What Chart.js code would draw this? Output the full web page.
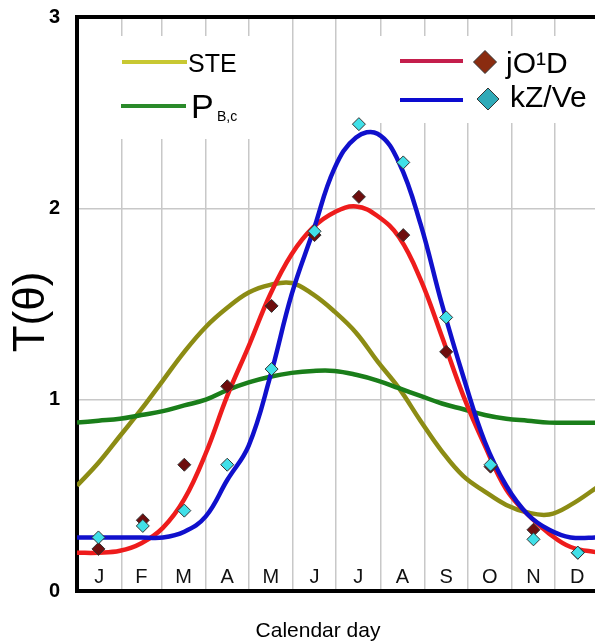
<!DOCTYPE html>
<html>
<head>
<meta charset="utf-8">
<script src="https://cdn.jsdelivr.net/npm/chart.js@4.4.1/dist/chart.umd.min.js"></script>
<style>
  html, body { margin: 0; padding: 0; background: #fff; }
  #wrap { width: 595px; height: 642px; }
</style>
</head>
<body>
<div id="wrap"><canvas id="myCanvas" width="595" height="642"></canvas></div>
<script>
// day of year for each curve sample
const days = [0, 15, 30, 45, 60, 75, 90, 105, 120, 135, 150, 165, 180, 195, 210, 225, 240, 255, 270, 285, 300, 315, 330, 345, 365];

const steValues = [0.55, 0.67, 0.81, 0.95, 1.10, 1.25, 1.38, 1.48, 1.56, 1.60, 1.61, 1.55, 1.46, 1.35, 1.20, 1.06, 0.89, 0.73, 0.60, 0.52, 0.45, 0.41, 0.40, 0.45, 0.55];
const pbcValues = [0.88, 0.89, 0.90, 0.92, 0.94, 0.97, 1.00, 1.05, 1.09, 1.12, 1.14, 1.15, 1.15, 1.13, 1.10, 1.06, 1.02, 0.98, 0.95, 0.92, 0.90, 0.89, 0.88, 0.88, 0.88];
const jo1dValues = [0.20, 0.20, 0.21, 0.25, 0.33, 0.48, 0.72, 1.02, 1.28, 1.55, 1.76, 1.90, 1.98, 2.01, 1.96, 1.85, 1.63, 1.33, 1.02, 0.76, 0.53, 0.40, 0.30, 0.23, 0.20];
const kzveValues = [0.28, 0.28, 0.28, 0.28, 0.28, 0.31, 0.39, 0.58, 0.76, 1.12, 1.55, 1.88, 2.21, 2.37, 2.39, 2.24, 1.92, 1.50, 1.12, 0.78, 0.55, 0.40, 0.32, 0.28, 0.28];

// monthly observations (mid-month days)
const obsDays = [15, 46, 75, 105, 136, 166, 197, 228, 258, 289, 319, 350];
const jo1dObs = [0.22, 0.37, 0.66, 1.07, 1.49, 1.86, 2.06, 1.86, 1.25, 0.65, 0.32, 0.20];
const kzveObs = [0.28, 0.34, 0.42, 0.66, 1.16, 1.88, 2.44, 2.24, 1.43, 0.66, 0.27, 0.20];

const monthStarts = [0, 31, 59, 90, 120, 151, 181, 212, 243, 273, 304, 334, 365];
const monthLabels = ["J", "F", "M", "A", "M", "J", "J", "A", "S", "O", "N", "D"];
const yTicks = [0, 1, 2, 3];

const dayMax = 362;
const FONT = "'Liberation Sans', Arial, sans-serif";

function toPoints(xs, ys) {
  return xs.map((x, i) => ({ x: x, y: ys[i] }));
}

function diamond(ctx, x, y, r, fill) {
  ctx.beginPath();
  ctx.moveTo(x, y - r);
  ctx.lineTo(x + r, y);
  ctx.lineTo(x, y + r);
  ctx.lineTo(x - r, y);
  ctx.closePath();
  ctx.fillStyle = fill;
  ctx.fill();
  ctx.lineWidth = 1;
  ctx.strokeStyle = "#333";
  ctx.stroke();
}

function legendLine(ctx, x1, x2, y, color) {
  ctx.beginPath();
  ctx.moveTo(x1, y);
  ctx.lineTo(x2, y);
  ctx.lineWidth = 4;
  ctx.strokeStyle = color;
  ctx.stroke();
}

const decor = {
  id: "decor",
  beforeDatasetsDraw(chart) {
    const ctx = chart.ctx;
    const xs = chart.scales.x;
    const area = chart.chartArea;
    ctx.save();

    // month letters along the bottom of the plot
    ctx.fillStyle = "#111";
    ctx.font = "20px " + FONT;
    ctx.textAlign = "center";
    ctx.textBaseline = "alphabetic";
    monthLabels.forEach((m, i) => {
      const mid = (monthStarts[i] + monthStarts[i + 1]) / 2;
      ctx.fillText(m, xs.getPixelForValue(mid), area.bottom - 8);
    });

    // legend boxes
    ctx.fillStyle = "#fff";
    ctx.fillRect(82, 36, 180, 103);
    ctx.fillRect(360, 36, 235, 87);

    ctx.lineCap = "butt";
    legendLine(ctx, 122, 187, 62, "#c8c832");
    legendLine(ctx, 121, 186, 106, "#2a8a2a");
    legendLine(ctx, 400, 463, 61, "#c41e4c");
    legendLine(ctx, 400, 463, 100, "#0c0cd0");
    diamond(ctx, 485, 62, 11.5, "#8a2c10");
    diamond(ctx, 488, 99, 11, "#30aab8");

    ctx.fillStyle = "#000";
    ctx.textAlign = "left";
    ctx.font = "25px " + FONT;
    ctx.fillText("STE", 188, 72);
    ctx.font = "34px " + FONT;
    ctx.fillText("P", 191, 118);
    ctx.font = "14px " + FONT;
    ctx.fillText("B,c", 217, 121);
    ctx.font = "30px " + FONT;
    ctx.fillText("jO\u00B9D", 506, 73);
    ctx.fillText("kZ/Ve", 510, 107);
    ctx.restore();
  },
  afterDraw(chart) {
    const ctx = chart.ctx;
    const area = chart.chartArea;
    ctx.save();
    // top frame line
    ctx.beginPath();
    ctx.moveTo(area.left - 2, area.top);
    ctx.lineTo(area.right, area.top);
    ctx.lineWidth = 4;
    ctx.strokeStyle = "#000";
    ctx.stroke();

    // axis titles
    ctx.fillStyle = "#000";
    ctx.textAlign = "center";
    ctx.textBaseline = "alphabetic";
    ctx.font = "21px " + FONT;
    ctx.fillText("Calendar day", 318, 637);

    ctx.translate(32, 312);
    ctx.rotate(-Math.PI / 2);
    ctx.font = "44px " + FONT;
    ctx.textBaseline = "middle";
    ctx.fillText("T(\u03B8)", 0, 0);
    ctx.restore();
  }
};

const lineStyle = (color, order) => ({
  type: "line",
  borderColor: color,
  backgroundColor: color,
  borderWidth: 4.5,
  pointRadius: 0,
  tension: 0.4,
  fill: false,
  order: order
});

const ctx = document.getElementById("myCanvas").getContext("2d");
new Chart(ctx, {
  data: {
    datasets: [
      Object.assign(lineStyle("#8c8c14", 5), { label: "STE", data: toPoints(days, steValues) }),
      Object.assign(lineStyle("#1a7e1a", 4), { label: "PB,c", data: toPoints(days, pbcValues) }),
      Object.assign(lineStyle("#ee1c1c", 3), { label: "jO1D", data: toPoints(days, jo1dValues) }),
      Object.assign(lineStyle("#1010cc", 2), { label: "kZ/Ve", data: toPoints(days, kzveValues) }),
      {
        type: "scatter",
        label: "jO1D obs",
        data: toPoints(obsDays, jo1dObs),
        pointStyle: "rectRot",
        pointRadius: 6.5,
        backgroundColor: "#6e0e0e",
        borderColor: "#333",
        borderWidth: 1,
        order: 1
      },
      {
        type: "scatter",
        label: "kZ/Ve obs",
        data: toPoints(obsDays, kzveObs),
        pointStyle: "rectRot",
        pointRadius: 6.5,
        backgroundColor: "#40e0e8",
        borderColor: "#333",
        borderWidth: 1,
        order: 0
      }
    ]
  },
  options: {
    responsive: false,
    animation: false,
    layout: { autoPadding: false, padding: { top: 17, right: 0, left: 0, bottom: 0 } },
    plugins: {
      legend: { display: false },
      tooltip: { enabled: false }
    },
    scales: {
      x: {
        type: "linear",
        min: 0,
        max: dayMax,
        afterBuildTicks(scale) {
          scale.ticks = monthStarts.slice(1, -1).map(v => ({ value: v }));
        },
        afterFit(scale) { scale.height = 51; },
        ticks: { display: false },
        grid: { color: "#c8c8c8", lineWidth: 1.5, drawTicks: false },
        border: { display: true, color: "#000", width: 4 }
      },
      y: {
        min: 0,
        max: 3,
        afterBuildTicks(scale) {
          scale.ticks = yTicks.map(v => ({ value: v }));
        },
        afterFit(scale) { scale.width = 77; },
        ticks: {
          padding: 0,
          color: "#000",
          font: { family: FONT, size: 20, weight: "bold" }
        },
        grid: { color: "#c8c8c8", lineWidth: 1.5, drawTicks: true, tickLength: 17, tickColor: "rgba(0,0,0,0)" },
        border: { display: true, color: "#000", width: 4 }
      }
    }
  },
  plugins: [decor]
});
</script>
</body>
</html>
